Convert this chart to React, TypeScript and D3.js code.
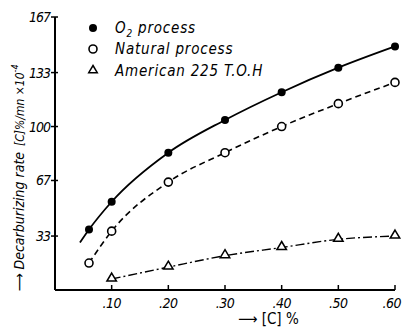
import React from "react";
import * as d3 from "d3";

const carbon = [0.06, 0.1, 0.2, 0.3, 0.4, 0.5, 0.6];
const o2Values = [37, 54, 84, 104, 121, 136, 149];
const o2Start = { x: 0.044, y: 29 };
const naturalValues = [16.5, 36, 66, 84, 100, 114, 127];
const americanX = [0.1, 0.2, 0.3, 0.4, 0.5, 0.6];
const americanValues = [6.7, 14, 21, 26, 31, 33];
const yTicks = [33, 67, 100, 133, 167];
const xTicks = [0.1, 0.2, 0.3, 0.4, 0.5, 0.6];
const xTickLabels = [".10", ".20", ".30", ".40", ".50", ".60"];
const legendLabels = ["O2 process", "Natural process", "American 225 T.O.H"];

const W = 403;
const H = 327;
const FONT = "'DejaVu Sans Condensed', 'Liberation Sans Narrow', 'DejaVu Sans', sans-serif";

export default function App() {
  const x = d3.scaleLinear().domain([0, 0.6]).range([55, 395]);
  const y = d3.scaleLinear().domain([0, 167]).range([290, 17]);
  const line = d3
    .line<[number, number]>()
    .x((d) => x(d[0]))
    .y((d) => y(d[1]))
    .curve(d3.curveMonotoneX);

  const o2Pts: [number, number][] = [[o2Start.x, o2Start.y], ...carbon.map((c, i) => [c, o2Values[i]] as [number, number])];
  const natPts: [number, number][] = carbon.map((c, i) => [c, naturalValues[i]]);
  const amPts: [number, number][] = americanX.map((c, i) => [c, americanValues[i]]);

  const tri = (cx: number, cy: number, r: number) =>
    `M${cx},${cy - r}L${cx + r * 0.95},${cy + r * 0.6}L${cx - r * 0.95},${cy + r * 0.6}Z`;

  const legendY = [28, 49, 71];

  return (
    <svg width={W} height={H} style={{ position: "absolute", left: 0, top: 0, background: "#fff" }}>
      {/* axes */}
      <line x1={55} x2={55} y1={y(167)} y2={y(0)} stroke="#000" strokeWidth={2} />
      <line x1={55} x2={x(0.6)} y1={y(0)} y2={y(0)} stroke="#000" strokeWidth={2} />
      {yTicks.map((t) => (
        <g key={t}>
          <line x1={51} x2={58} y1={y(t)} y2={y(t)} stroke="#000" strokeWidth={1.5} />
          <text
            x={50}
            y={y(t) + 5}
            textAnchor="end"
            fontSize={14}
            fontStyle="italic"
            fontFamily={FONT}
            letterSpacing={-1}
          >
            {t}
          </text>
        </g>
      ))}
      {xTicks.map((t, i) => {
        const last = i === xTicks.length - 1;
        return (
          <g key={t}>
            <line x1={x(t)} x2={x(t)} y1={y(0)} y2={y(0) - 5} stroke="#000" strokeWidth={1.5} />
            <text
              x={last ? 401 : x(t)}
              y={y(0) + 18}
              textAnchor={last ? "end" : "middle"}
              fontSize={14}
              fontStyle="italic"
              fontFamily={FONT}
              letterSpacing={-0.5}
            >
              {xTickLabels[i]}
            </text>
          </g>
        );
      })}
      {/* series lines */}
      <path d={line(o2Pts) || ""} fill="none" stroke="#000" strokeWidth={1.8} />
      <path d={line(natPts) || ""} fill="none" stroke="#000" strokeWidth={1.6} strokeDasharray="6,4" />
      <path d={line(amPts) || ""} fill="none" stroke="#000" strokeWidth={1.4} strokeDasharray="9,3,2,3" />
      {/* markers */}
      {carbon.map((c, i) => (
        <circle key={"o" + i} cx={x(c)} cy={y(o2Values[i])} r={4} fill="#000" />
      ))}
      {carbon.map((c, i) => (
        <circle key={"n" + i} cx={x(c)} cy={y(naturalValues[i])} r={4} fill="#fff" stroke="#000" strokeWidth={1.6} />
      ))}
      {americanX.map((c, i) => (
        <path key={"a" + i} d={tri(x(c), y(americanValues[i]) - 1, 5)} fill="#fff" stroke="#000" strokeWidth={1.5} />
      ))}
      {/* legend */}
      <circle cx={93} cy={legendY[0]} r={4} fill="#000" />
      <circle cx={93} cy={legendY[1]} r={4} fill="#fff" stroke="#000" strokeWidth={1.6} />
      <path d={tri(93, legendY[2] - 1, 4.5)} fill="#fff" stroke="#000" strokeWidth={1.5} />
      {legendLabels.map((l, i) => (
        <text
          key={l}
          x={115}
          y={legendY[i] + 5}
          fontSize={15}
          fontStyle="italic"
          fontFamily={FONT}
          letterSpacing={0.8}
        >
          {i === 0 ? (
            <>
              O<tspan fontSize={10} dy={4}>2</tspan>
              <tspan dy={-4}> process</tspan>
            </>
          ) : (
            l
          )}
        </text>
      ))}
      {/* axis titles */}
      <text
        transform="translate(24,178) rotate(-90)"
        textAnchor="middle"
        fontSize={14}
        fontStyle="italic"
        fontFamily={FONT}
      >
        ⟶ Decarburizing rate
        <tspan dx={6} fontSize={12}>[C]%/mn ×10</tspan>
        <tspan fontSize={9} dy={-6}>-4</tspan>
      </text>
      <text x={238} y={324} fontSize={15} fontFamily={FONT}>
        ⟶ [C] %
      </text>
    </svg>
  );
}
